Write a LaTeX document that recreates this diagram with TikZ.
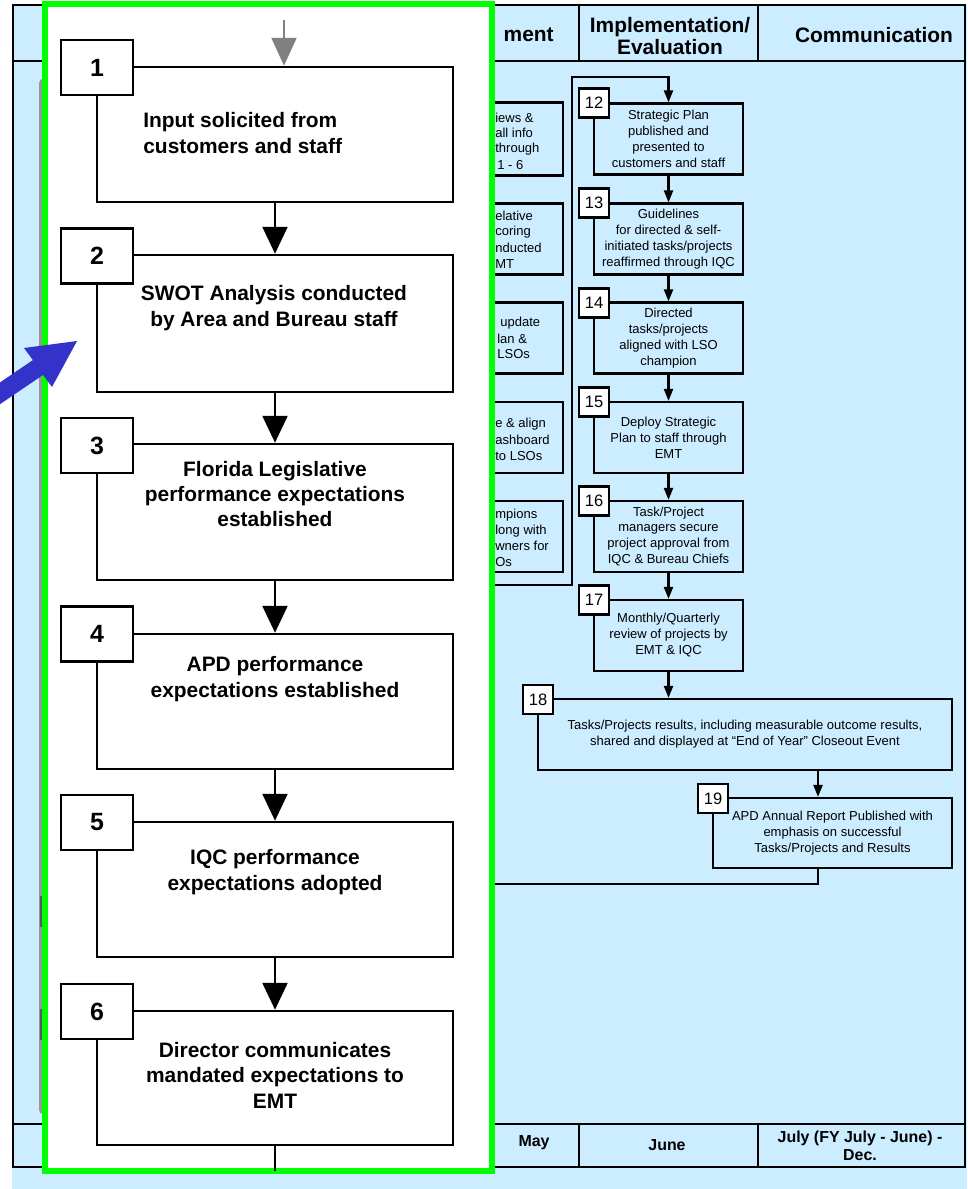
\documentclass[tikz,border=0pt]{standalone}
\usepackage{fontspec}
\setmainfont{Liberation Sans}
\usetikzlibrary{arrows.meta}
\newlength{\pxl}\setlength{\pxl}{0.02cm}
\definecolor{paneblue}{RGB}{204,236,255}
\definecolor{arrowblue}{RGB}{51,51,204}
\definecolor{panelgreen}{RGB}{0,255,0}
\definecolor{shadowgray}{RGB}{150,150,150}

\begin{document}
\begin{tikzpicture}[x=\pxl,y=-\pxl,
  tableline/.style={draw=black, line width=2.6\pxl},
  bigbox/.style={draw=black, line width=2.6\pxl, fill=white, minimum width=356\pxl,
    minimum height=135\pxl, inner sep=0pt},
  bignum/.style={draw=black, line width=2.6\pxl, fill=white, minimum width=72\pxl,
    minimum height=55\pxl, inner sep=0pt, font=\fontsize{14.2}{16}\selectfont\bfseries},
  bigtext/.style={align=center, inner sep=0pt, font=\fontsize{11.9}{14.5}\selectfont\bfseries},
  bigarrow/.style={draw=black, line width=2.4\pxl, -{Triangle[width=14.2pt,length=15.3pt]}},
  grayarrow/.style={draw=gray, line width=2.4\pxl, -{Triangle[width=14.2pt,length=15.9pt]}},
  smallbox/.style={draw=black, line width=2.2\pxl, fill=paneblue, minimum width=149\pxl,
    minimum height=71\pxl, inner sep=0pt, align=center, font=\fontsize{7.4}{9.1}\selectfont},
  smallnum/.style={draw=black, line width=2.2\pxl, fill=white, minimum width=30\pxl,
    minimum height=29\pxl, inner sep=0pt, font=\fontsize{9.4}{10}\selectfont},
  smallarrow/.style={draw=black, line width=2.2\pxl, -{Triangle[width=5.1pt,length=6.8pt]}},
  plainline/.style={draw=black, line width=2.2\pxl},
  fragment/.style={anchor=west, inner sep=0pt, font=\fontsize{7.4}{9.1}\selectfont},
  headtext/.style={align=center, inner sep=0pt, font=\fontsize{11.9}{13}\selectfont\bfseries},
  foottext/.style={align=center, inner sep=0pt, font=\fontsize{9.07}{10.2}\selectfont\bfseries}]

\clip (0,0) rectangle (967,1189);

% ---------- table background and grid ----------
\fill[paneblue] (12,5) rectangle (967,1189);
\draw[tableline] (13,5) rectangle (965,1167);
\draw[tableline] (13,61) -- (965,61);
\draw[tableline] (13,1124) -- (965,1124);
\draw[tableline] (579,5) -- (579,61);
\draw[tableline] (758,5) -- (758,61);
\draw[tableline] (579,1124) -- (579,1167);
\draw[tableline] (758,1124) -- (758,1167);

% header cells
\node[headtext, anchor=east] (hdev) at (554,35) {ment};
\node[headtext] (himp) at (670,36) {Implementation/\\Evaluation};
\node[headtext] (hcom) at (874,35) {Communication};

% footer cells
\node[foottext] (fmay) at (534,1143) {May};
\node[foottext] (fjun) at (667,1145) {June};
\node[foottext] (fjul) at (860,1146) {July (FY July - June) -\\Dec.};

% ---------- development column boxes ----------
\node[smallbox, minimum width=163\pxl, minimum height=73\pxl] (pA) at (481.5,139) {};
\node[smallbox, minimum width=163\pxl] (pB) at (481.5,239) {};
\node[smallbox, minimum width=163\pxl] (pC) at (481.5,338) {};
\node[smallbox, minimum width=163\pxl] (pD) at (481.5,437.5) {};
\node[smallbox, minimum width=163\pxl] (pE) at (481.5,536.5) {};

\node[fragment] (fa1) at (495,118) {iews \&};
\node[fragment] (fa2) at (495,133) {all info};
\node[fragment] (fa3) at (495,149) {through};
\node[fragment] (fa4) at (497,165) {1 - 6};
\node[fragment] (fb1) at (495,216) {elative};
\node[fragment] (fb2) at (495,232) {coring};
\node[fragment] (fb3) at (495,248) {nducted};
\node[fragment] (fb4) at (495,264) {MT};
\node[fragment] (fc1) at (500,323) {update};
\node[fragment] (fc2) at (497,339) {lan \&};
\node[fragment] (fc3) at (497,354) {LSOs};
\node[fragment] (fd1) at (495,424) {e \& align};
\node[fragment] (fd2) at (495,440) {ashboard};
\node[fragment] (fd3) at (495,456) {to LSOs};
\node[fragment] (fe1) at (495,515) {mpions};
\node[fragment] (fe2) at (495,531) {long with};
\node[fragment] (fe3) at (495,546) {wners for};
\node[fragment] (fe4) at (495,562) {Os};

% ---------- implementation / evaluation column ----------
\node[smallbox] (b12) at (668.5,139) {Strategic Plan\\published and\\presented to\\customers and staff};
\node[smallbox] (b13) at (668.5,239) {Guidelines\\for directed \& self-\\initiated tasks/projects\\reaffirmed through IQC};
\node[smallbox] (b14) at (668.5,338) {Directed\\tasks/projects\\aligned with LSO\\champion};
\node[smallbox] (b15) at (668.5,437.5) {Deploy Strategic\\Plan to staff through\\EMT};
\node[smallbox] (b16) at (668.5,536.5) {Task/Project\\managers secure\\project approval from\\IQC \& Bureau Chiefs};
\node[smallbox] (b17) at (668.5,635.5) {Monthly/Quarterly\\review of projects by\\EMT \& IQC};
\node[smallbox, minimum width=414\pxl] (b18) at (745,734.5) {Tasks/Projects results, including measurable outcome results,\\shared and displayed at “End of Year” Closeout Event};
\node[smallbox, minimum width=239\pxl, minimum height=70\pxl] (b19) at (832.5,833) {APD Annual Report Published with\\emphasis on successful\\Tasks/Projects and Results};

\node[smallnum] (n12) at (594,103) {12};
\node[smallnum] (n13) at (594,203) {13};
\node[smallnum] (n14) at (594,303) {14};
\node[smallnum] (n15) at (594,402) {15};
\node[smallnum] (n16) at (594,501) {16};
\node[smallnum] (n17) at (594,600) {17};
\node[smallnum] (n18) at (538,699.5) {18};
\node[smallnum] (n19) at (713,798.5) {19};

% loop from the development column into step 12
\coordinate (loopA) at (470,585);
\coordinate (loopB) at (572,585);
\coordinate (loopC) at (572,77);
\draw[smallarrow] (loopA) -- (loopB) -- (loopC) -- (b12.north |- loopC) -- (b12.north);

\draw[smallarrow] (b12.south) -- (b13.north);
\draw[smallarrow] (b13.south) -- (b14.north);
\draw[smallarrow] (b14.south) -- (b15.north);
\draw[smallarrow] (b15.south) -- (b16.north);
\draw[smallarrow] (b16.south) -- (b17.north);
\draw[smallarrow] (b17.south) -- (b17.south |- b18.north);

\coordinate (c1819) at (818,0);
\draw[smallarrow] (b18.south -| c1819) -- (b19.north -| c1819);
\coordinate (ret19) at (818,884);
\coordinate (ret19end) at (470,884);
\draw[plainline] (b19.south -| ret19) -- (ret19) -- (ret19end);

% ---------- shadowed frame edge left of the panel ----------
\draw[shadowgray, line width=3\pxl, rounded corners=2pt] (48,80) -- (40.5,80) -- (40.5,1113) -- (48,1113);
\draw[black!65, line width=2\pxl] (41,896) -- (41,927);
\draw[black!65, line width=2\pxl] (41,1009) -- (41,1040);

% ---------- highlighted planning panel ----------
\node[draw=panelgreen, line width=6\pxl, fill=white, minimum width=447\pxl,
      minimum height=1166.5\pxl, inner sep=0pt, outer sep=0pt] (panel) at (268.5,587.75) {};

\node[bigbox] (b1) at (275,134.5) {};
\node[bigbox, minimum height=137\pxl] (b2) at (275,323.5) {};
\node[bigbox, minimum height=136\pxl] (b3) at (275,512) {};
\node[bigbox] (b4) at (275,701.5) {};
\node[bigbox] (b5) at (275,889.5) {};
\node[bigbox, minimum height=134\pxl] (b6) at (275,1078) {};

\node[bignum] (n1) at (97,67.5) {1};
\node[bignum] (n2) at (97,256) {2};
\node[bignum] (n3) at (97,445.5) {3};
\node[bignum] (n4) at (97,634) {4};
\node[bignum] (n5) at (97,822.5) {5};
\node[bignum] (n6) at (97,1011.5) {6};

\node[bigtext, align=left, anchor=west] (t1) at (143,133) {Input solicited from\\customers and staff};
\node[bigtext] (t2) at (274,308) {SWOT Analysis conducted\\by Area and Bureau staff};
\node[bigtext] (t3) at (275,494) {Florida Legislative\\performance expectations\\established};
\node[bigtext] (t4) at (275,679) {APD performance\\expectations established};
\node[bigtext] (t5) at (275,872) {IQC performance\\expectations adopted};
\node[bigtext] (t6) at (275,1075) {Director communicates\\mandated expectations to\\EMT};

\coordinate (gtop) at (284,20);
\draw[grayarrow] (gtop) -- (gtop |- b1.north);
\draw[bigarrow] (b1.south) -- (b2.north);
\draw[bigarrow] (b2.south) -- (b3.north);
\draw[bigarrow] (b3.south) -- (b4.north);
\draw[bigarrow] (b4.south) -- (b5.north);
\draw[bigarrow] (b5.south) -- (b6.north);
\coordinate (pbot) at (275,1171);
\draw[plainline, line width=2.4\pxl] (b6.south) -- (pbot);

% ---------- pointer arrow ----------
\fill[arrowblue] (77,341) -- (52,387) -- (43.1,374.9) -- (-6.5,408.6)
  -- (-16.7,393.8) -- (32.9,360.1) -- (24,348) -- cycle;

\end{tikzpicture}
\end{document}
